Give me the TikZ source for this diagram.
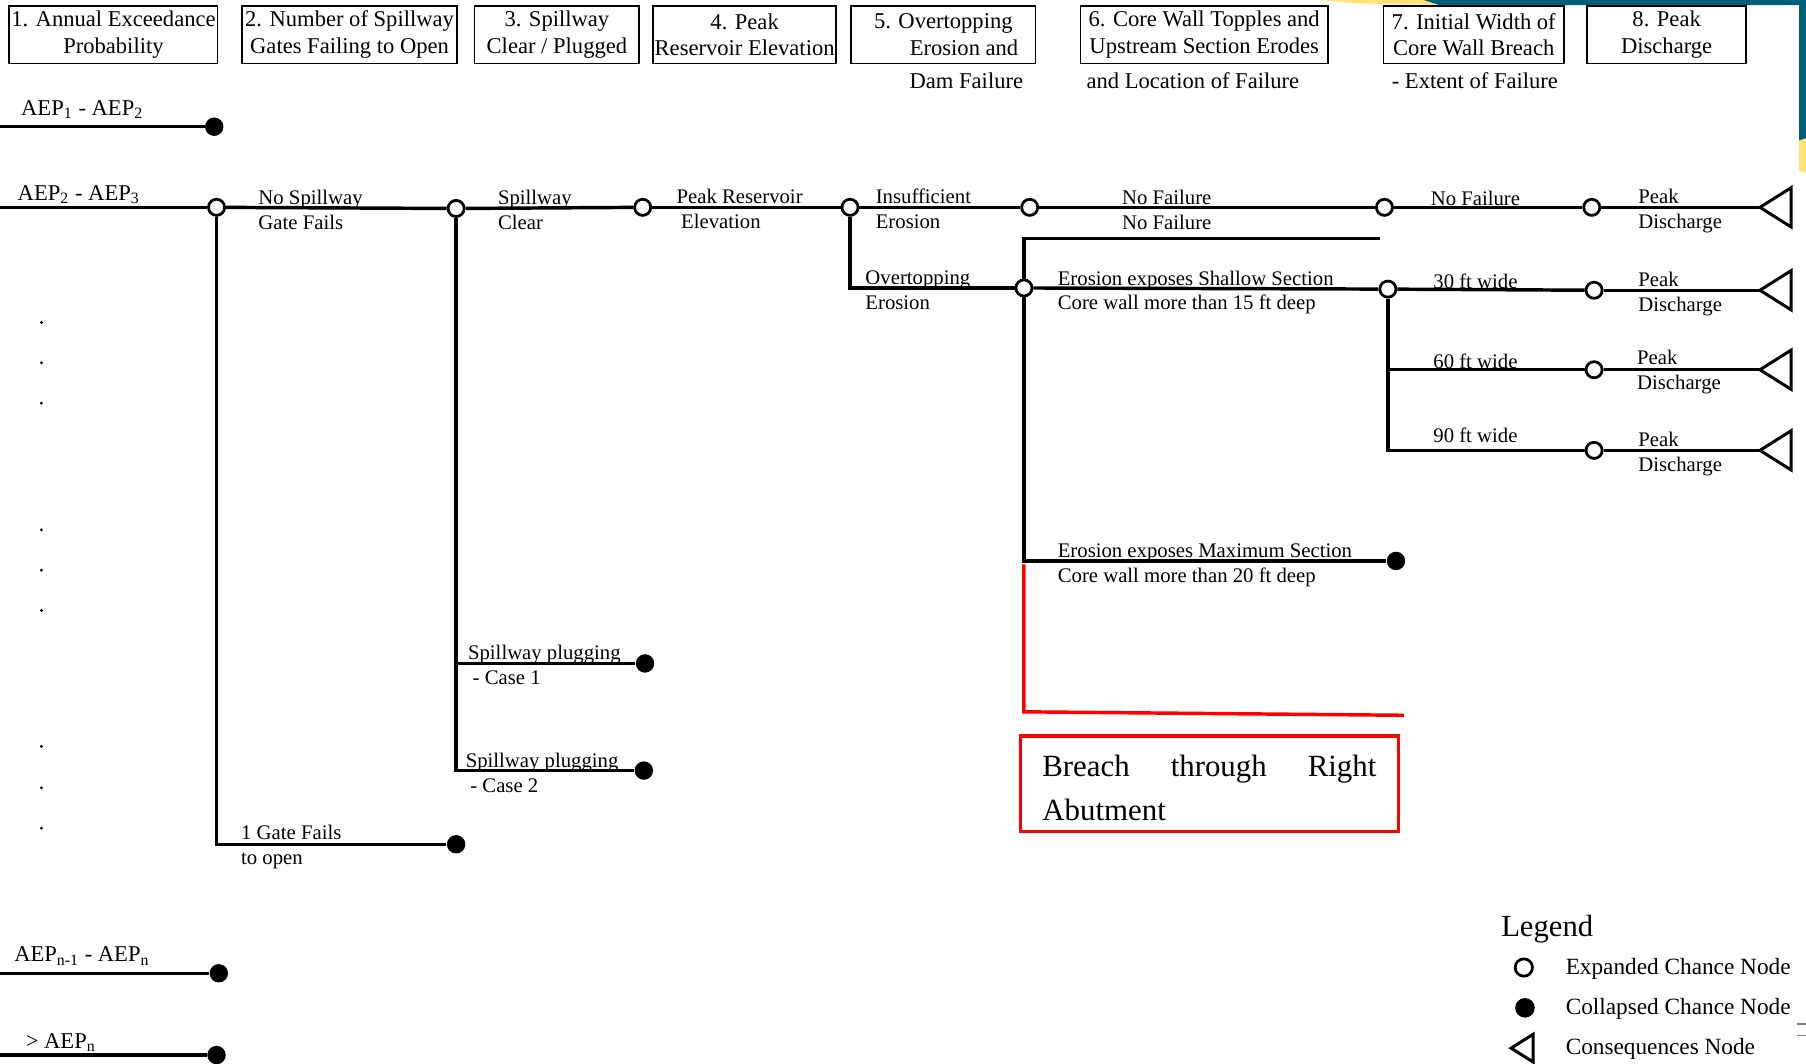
\documentclass[tikz,border=0pt]{standalone}
\usepackage{fontspec}
\setmainfont{Liberation Serif}
\definecolor{tealbar}{RGB}{0,94,125}
\definecolor{yelbar}{RGB}{255,226,120}
\newcommand\hdrfont{\fontsize{9.8}{11.5}\selectfont}
\newcommand\lblfont{\fontsize{9}{10.8}\selectfont}
\newcommand\aepfont{\fontsize{9.8}{11.5}\selectfont}
\newcommand\lgdfont{\fontsize{10.1}{12}\selectfont}
\begin{document}
\begin{tikzpicture}[x=0.5pt,y=-0.5pt,
  tl/.style={line width=1.5pt, line join=miter},
  oc/.style={circle, draw, line width=1.2pt, fill=white, minimum size=7pt, inner sep=0pt},
  fc/.style={circle, fill=black, minimum size=8pt, inner sep=0pt},
  hdr/.style={draw, line width=0.7pt, align=center, font=\hdrfont, inner sep=0pt, minimum height=25pt},
  hdrtxt/.style={font=\hdrfont, inner sep=0pt},
  lb/.style={anchor=west, align=left, font=\lblfont, inner sep=0pt},
  lbc/.style={align=center, font=\lblfont, inner sep=0pt},
  aep/.style={anchor=west, font=\aepfont, inner sep=0pt},
  cons/.style={line width=1.3pt, line join=miter},
  dotn/.style={circle, fill=black, minimum size=1.4pt, inner sep=0pt},
  redln/.style={red, line width=1.5pt, line join=miter},
  lgd/.style={anchor=west, font=\lgdfont, inner sep=0pt}]
\useasboundingbox (0,0) rectangle (1568,923);

% background decorations (top right)
\fill[yelbar] (1145,0) -- (1252,0) -- (1252,4.5) -- (1180,3) -- cycle;
\fill[tealbar] (1236,0) -- (1568,0) -- (1568,122) -- (1562,122) -- (1562,4.5) -- (1250,4.5) -- cycle;
\fill[yelbar] (1562,122) -- (1568,120) -- (1568,150) -- (1562,148) -- cycle;
\draw[gray, line width=0.6pt] (1560,889) -- (1568,889);
\draw[gray, line width=0.6pt] (1560,899) -- (1568,899);

% header boxes
\node[hdr, minimum width=90.5pt] (h1) at (98.5,30) {1. Annual Exceedance\\Probability};
\node[hdr, minimum width=93.5pt] (h2) at (303.5,30) {2. Number of Spillway\\Gates Failing to Open};
\node[hdr, minimum width=71.5pt] (h3) at (483.5,30) {3. Spillway\\Clear / Plugged};
\node[hdr, minimum width=79.5pt] (h4) at (646.5,30) {4. Peak\\Reservoir Elevation};
\node[hdr, minimum width=80pt] (h5) at (819,30) {5. Overtopping\\\hspace*{18pt}Erosion and};
\node[hdr, minimum width=107.5pt] (h6) at (1045.5,30) {6. Core Wall Topples and\\Upstream Section Erodes};
\node[hdr, minimum width=78.5pt] (h7) at (1279.5,30) {7. Initial Width of\\Core Wall Breach};
\node[hdr, minimum width=69pt] (h8) at (1447,30) {8. Peak\\Discharge};
\node[hdrtxt] (h5b) at (839,70) {Dam Failure};
\node[hdrtxt, anchor=west] (h6b) at (943,70) {and Location of Failure};
\node[hdrtxt, anchor=west] (h7b) at (1208,70) {- Extent of Failure};

% AEP labels
\node[aep] (A1) at (18,95) {AEP\textsubscript{1} - AEP\textsubscript{2}};
\node[aep] (A2) at (15,169) {AEP\textsubscript{2} - AEP\textsubscript{3}};
\node[aep] (A3) at (12,830) {AEP\textsubscript{n-1} - AEP\textsubscript{n}};
\node[aep] (A4) at (22,905) {> AEP\textsubscript{n}};

% start coordinates
\coordinate (s1) at (0,110);
\coordinate (s2) at (0,180);
\coordinate (s3) at (0,845);
\coordinate (s4) at (0,916);

% chance nodes
\node[fc] (a1) at (186,110) {};
\node[oc] (a2) at (188,180) {};
\node[fc] (a3) at (190,845) {};
\node[fc] (a4) at (188,916) {};
\node[oc] (b1) at (396,181) {};
\node[fc] (b2) at (396,733) {};
\node[oc] (c1) at (558,180) {};
\node[fc] (c2) at (560,576) {};
\node[fc] (c3) at (559,669) {};
\node[oc] (d1) at (738,180) {};
\node[oc] (e1) at (894,180) {};
\node[oc] (e2) at (889,250) {};
\node[oc] (f1) at (1202,180) {};
\node[oc] (f2) at (1205,251) {};
\node[fc] (f3) at (1212,487) {};
\node[oc] (g1) at (1382,180) {};
\node[oc] (g2) at (1384,252) {};
\node[oc] (g3) at (1384,321) {};
\node[oc] (g4) at (1384,391) {};
\coordinate (t1) at (1528,180);
\coordinate (t2) at (1528,252);
\coordinate (t3) at (1528,321);
\coordinate (t4) at (1528,391);
\coordinate (k2) at (889,207);
\coordinate (k3) at (1198,207);
\coordinate (k4) at (889,490);
\coordinate (k5) at (889,618);
\coordinate (k6) at (1219,621);

% connectors
\draw[tl] (s1) -- (a1);
\draw[tl] (s2) -- (a2);
\draw[tl] (s3) -- (a3);
\draw[tl] (s4) -- (a4);
\draw[tl] (a2) -- (b1);
\draw[tl] (a2) |- (b2);
\draw[tl] (b1) -- (c1);
\draw[tl] (b1) |- (c2);
\draw[tl] (b1) |- (c3);
\draw[tl] (c1) -- (d1);
\draw[tl] (d1) -- (e1);
\draw[tl] (d1) |- (e2);
\draw[tl] (e1) -- (f1);
\draw[tl] (f1) -- (g1);
\draw[tl] (g1) -- (t1);
\draw[tl] (e2) -- (k2) -- (k3);
\draw[tl] (e2) -- (f2);
\draw[tl] (e2) |- (f3);
\draw[tl] (f2) -- (g2);
\draw[tl] (f2) |- (g3);
\draw[tl] (f2) |- (g4);
\draw[tl] (g2) -- (t2);
\draw[tl] (g3) -- (t3);
\draw[tl] (g4) -- (t4);
\foreach \t in {t1,t2,t3,t4}
  \draw[cons] (\t) -- ++(27,-17) -- ++(0,34) -- cycle;

% red path and box
\draw[redln] (k4) -- (k5) -- (k6);
\draw[red, line width=1.5pt] (886,639) rectangle (1214,722);
\node[inner sep=0pt, text width=145pt, align=left, font=\fontsize{13.4}{19}\selectfont] (rb) at (1050,684)
  {Breach\hfill through\hfill Right\\Abutment};

% branch labels
\node[lb] (L1) at (224,182) {No Spillway\\Gate Fails};
\node[lb] (L2) at (209,735) {1 Gate Fails\\to open};
\node[lb] (L3) at (432,182) {Spillway\\Clear};
\node[lb] (L4) at (406,577) {Spillway plugging\\\hspace*{2pt}- Case 1};
\node[lb] (L5) at (404,671) {Spillway plugging\\\hspace*{2pt}- Case 2};
\node[lb] (L6) at (587,181) {Peak Reservoir\\\hspace*{2pt}Elevation};
\node[lb] (L7) at (760,181) {Insufficient\\Erosion};
\node[lb] (L8) at (751,252) {Overtopping\\Erosion};
\node[lbc] (L9) at (1013,182) {No Failure\\No Failure};
\node[lbc] (L10) at (1281,172) {No Failure};
\node[lb] (L11) at (918,254) {Erosion exposes Shallow Section\\Core wall more than 15 ft deep};
\node[lbc] (L12) at (1281,244) {30 ft wide};
\node[lbc] (L13) at (1281,314) {60 ft wide};
\node[lbc] (L14) at (1281,378) {90 ft wide};
\node[lb] (L15) at (918,491) {Erosion exposes Maximum Section\\Core wall more than 20 ft deep};
\node[lb] (P1) at (1422,183) {Peak\\Discharge};
\node[lb] (P2) at (1422,255) {Peak\\Discharge};
\node[lb] (P3) at (1421,323) {Peak\\Discharge};
\node[lb] (P4) at (1422,394) {Peak\\Discharge};

% ellipsis dots
\foreach \y [count=\i] in {280,315,350,460,495,530,648,684,719}
  \node[dotn] (dot\i) at (36,\y) {};

% legend
\node[anchor=west, inner sep=0pt, font=\fontsize{13.3}{15}\selectfont] (lg) at (1303,807) {Legend};
\node[oc, minimum size=7.5pt] (lgo) at (1323,840) {};
\node[lgd] (lgot) at (1359,841) {Expanded Chance Node};
\node[fc, minimum size=8.5pt] (lgf) at (1324,875) {};
\node[lgd] (lgft) at (1359,876) {Collapsed Chance Node};
\coordinate (lgt) at (1312,910);
\draw[cons] (lgt) -- ++(19,-12) -- ++(0,24) -- cycle;
\node[lgd] (lgtt) at (1359,911) {Consequences Node};
\end{tikzpicture}
\end{document}
